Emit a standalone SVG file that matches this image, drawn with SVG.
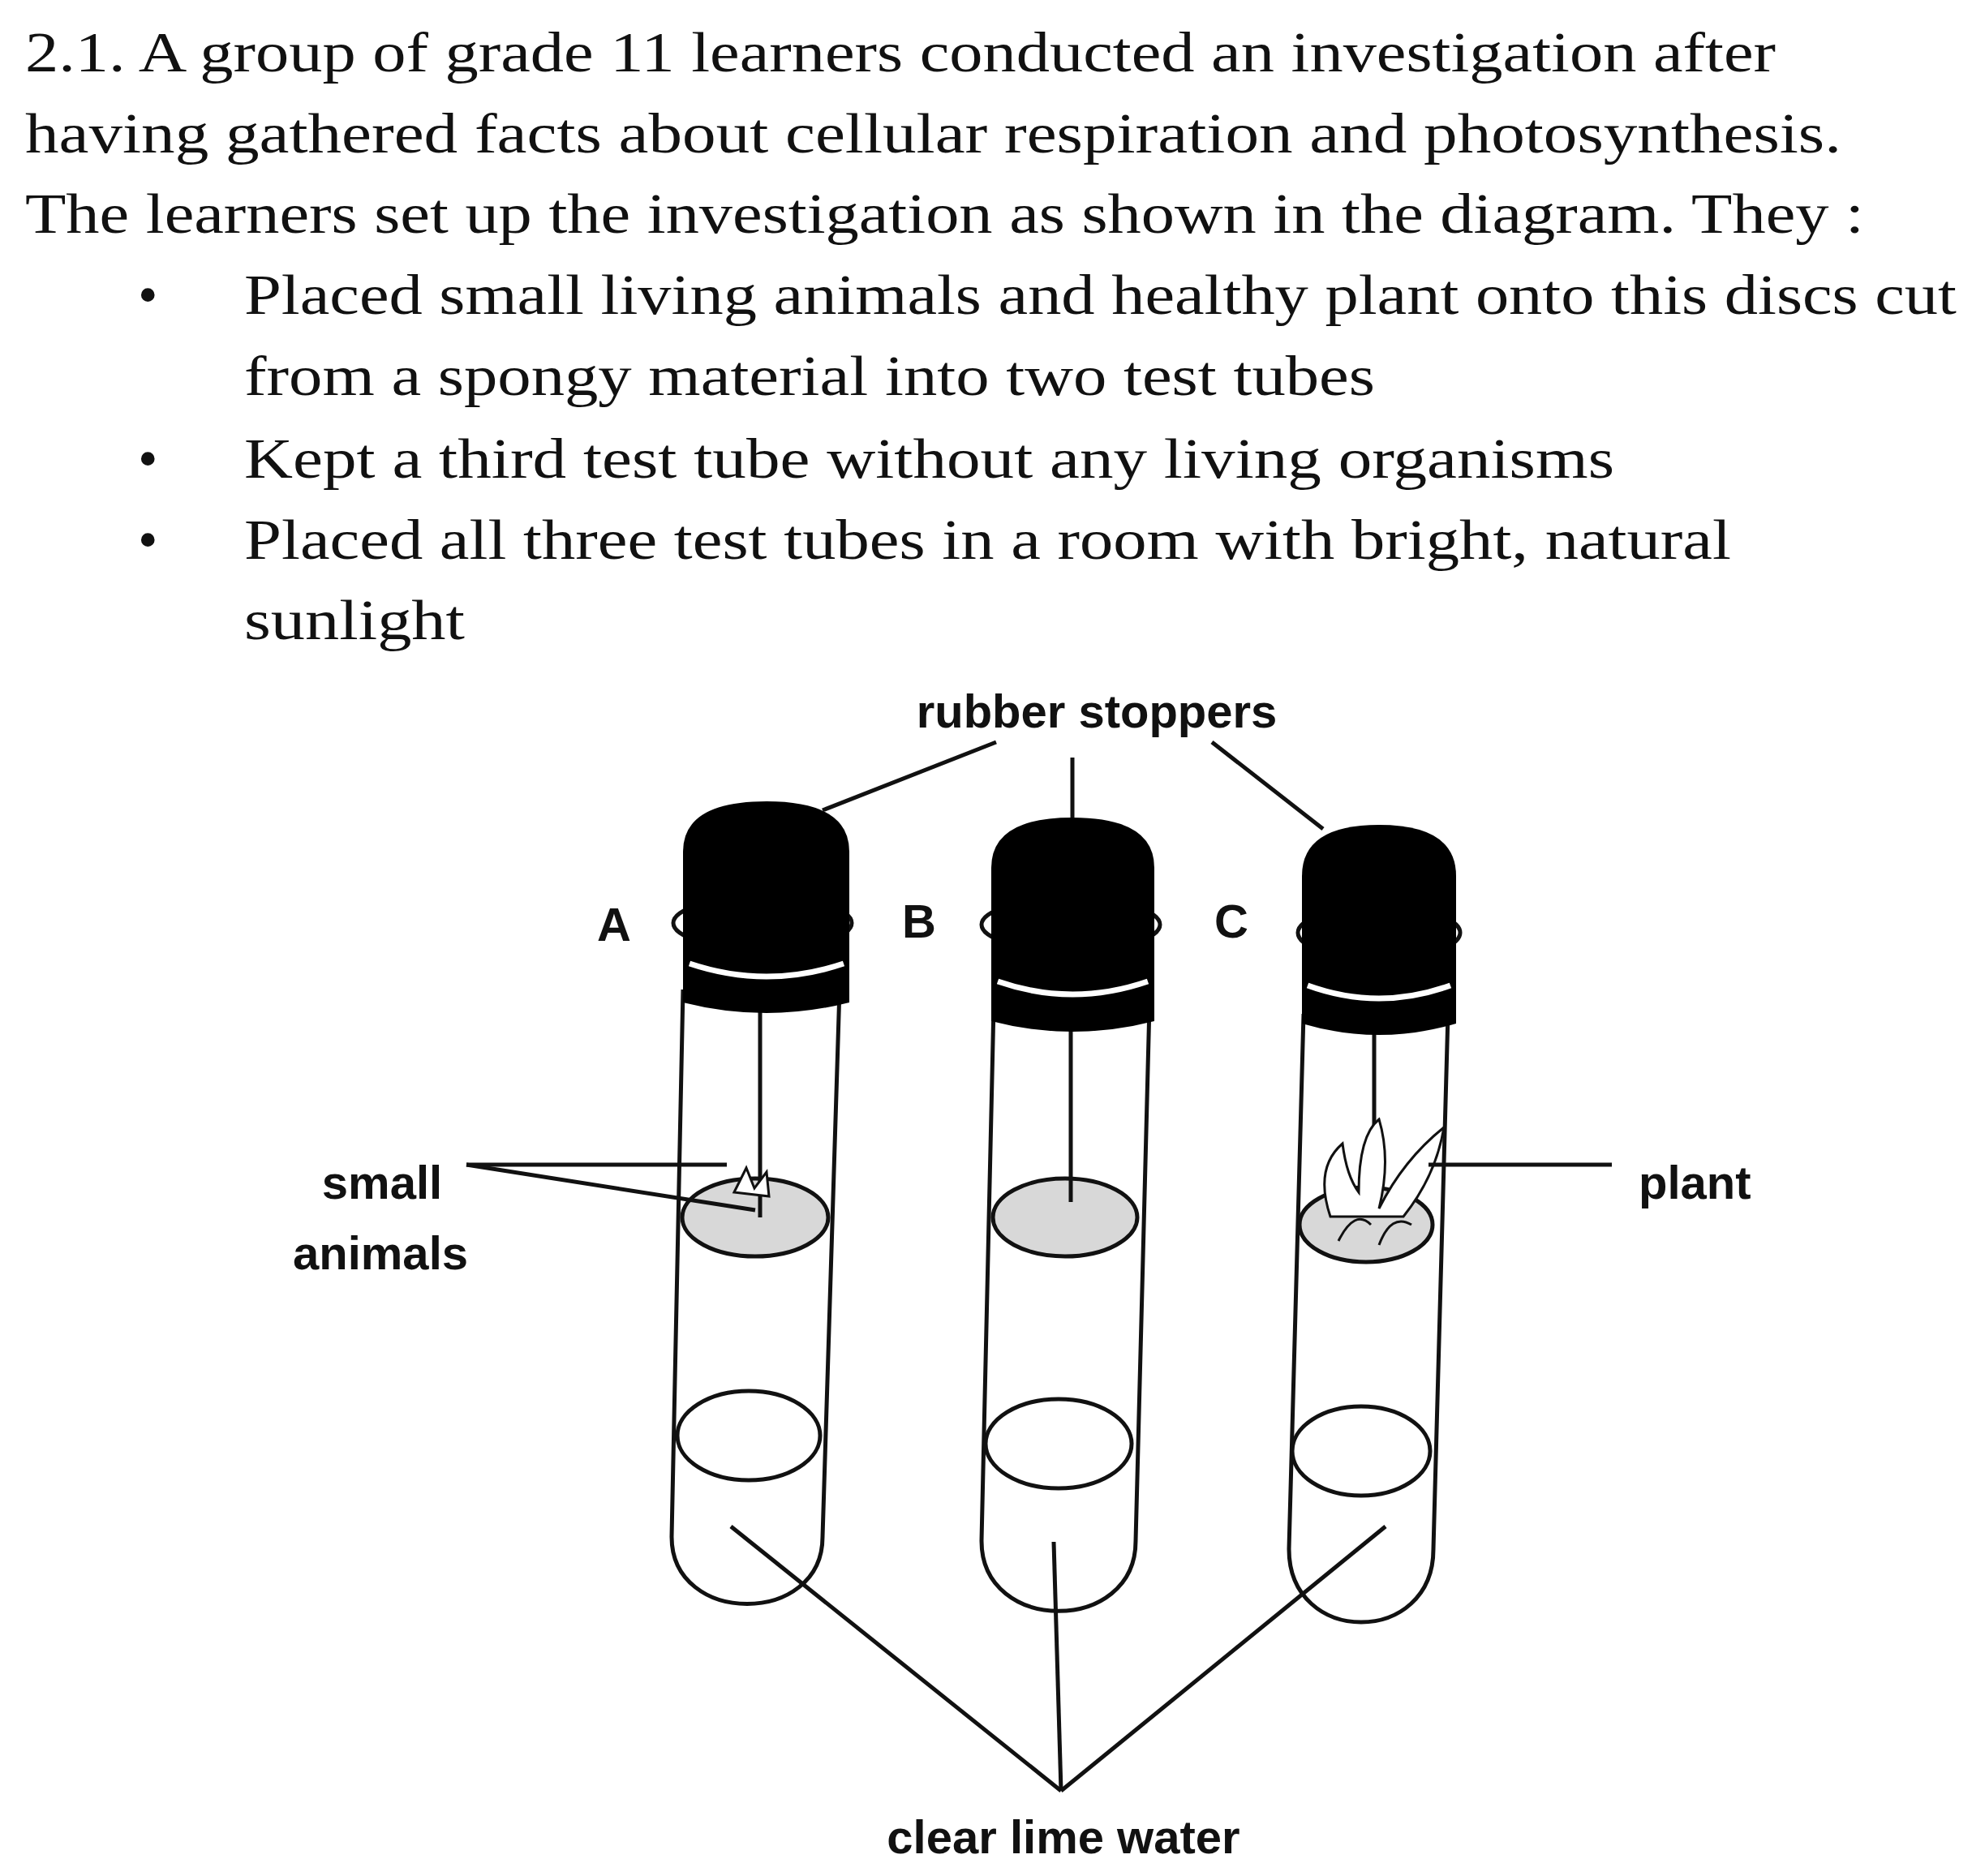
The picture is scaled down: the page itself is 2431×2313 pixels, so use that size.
<svg xmlns="http://www.w3.org/2000/svg" width="2431" height="2313" viewBox="0 0 2431 2313">
<style>
.b{font-family:"Liberation Serif",serif;font-size:70px;fill:#111}
.l{font-family:"Liberation Sans",Arial,sans-serif;font-size:58px;font-weight:bold;fill:#111}
.ln{stroke:#111;stroke-width:5;fill:none}
.tube{stroke:#111;stroke-width:5;fill:#fff}
.disc{stroke:#111;stroke-width:5;fill:#d8d8d8}
</style>
<defs>
<pattern id="dots" width="22" height="18" patternUnits="userSpaceOnUse">
<rect width="22" height="18" fill="#eee"/>
<circle cx="6" cy="5" r="3" fill="#333"/><circle cx="16" cy="13" r="2.5" fill="#333"/>
</pattern>
</defs>
<rect width="2431" height="2313" fill="#fff"/>
<g id="text">
<text class="b" x="31" y="88" textLength="2158" lengthAdjust="spacingAndGlyphs">2.1. A group of grade 11 learners conducted an investigation after</text>
<text class="b" x="31" y="188" textLength="2239" lengthAdjust="spacingAndGlyphs">having gathered facts about cellular respiration and photosynthesis.</text>
<text class="b" x="31" y="287" textLength="2267" lengthAdjust="spacingAndGlyphs">The learners set up the investigation as shown in the diagram. They :</text>
<text class="b" x="170" y="387">•</text>
<text class="b" x="301" y="387" textLength="2111" lengthAdjust="spacingAndGlyphs">Placed small living animals and healthy plant onto this discs cut</text>
<text class="b" x="301" y="487" textLength="1394" lengthAdjust="spacingAndGlyphs">from a spongy material into two test tubes</text>
<text class="b" x="170" y="589">•</text>
<text class="b" x="301" y="589" textLength="1689" lengthAdjust="spacingAndGlyphs">Kept a third test tube without any living organisms</text>
<text class="b" x="170" y="689">•</text>
<text class="b" x="301" y="689" textLength="1833" lengthAdjust="spacingAndGlyphs">Placed all three test tubes in a room with bright, natural</text>
<text class="b" x="301" y="788" textLength="272" lengthAdjust="spacingAndGlyphs">sunlight</text>
</g>
<g id="tubeA">
<path class="tube" d="M842,1220 L828,1895 C828,2005 1014,2005 1014,1895 L1035,1220"/>
<ellipse class="ln" cx="923" cy="1770" rx="88" ry="55"/>
<ellipse class="disc" cx="931" cy="1501" rx="90" ry="48" fill="url(#dots)"/>
<line class="ln" x1="937" y1="1236" x2="937" y2="1501" stroke-width="4"/>
<path d="M905,1470 l15,-30 l10,25 l15,-20 l3,30z" fill="#fff" stroke="#111" stroke-width="3"/>
<ellipse class="ln" cx="940" cy="1138" rx="110" ry="32"/>
<path d="M842,1236 L842,1050 Q842,988 945,988 Q1047,988 1047,1050 L1047,1236 Q945,1262 842,1236z" fill="#000"/>
<path d="M850,1188 Q945,1220 1040,1188" stroke="#fff" stroke-width="7" fill="none"/>
<text class="l" x="757" y="1160" text-anchor="middle">A</text>
</g>
<g id="tubeB">
<path class="tube" d="M1225,1240 L1210,1900 C1210,2015 1400,2015 1400,1900 L1417,1240"/>
<ellipse class="ln" cx="1305" cy="1780" rx="90" ry="55"/>
<ellipse class="disc" cx="1313" cy="1501" rx="89" ry="48" fill="url(#dots)"/>
<line class="ln" x1="1320" y1="1259" x2="1320" y2="1482" stroke-width="4"/>
<ellipse class="ln" cx="1320" cy="1140" rx="110" ry="32"/>
<path d="M1222,1259 L1222,1070 Q1222,1008 1322,1008 Q1423,1008 1423,1070 L1423,1259 Q1322,1285 1222,1259z" fill="#000"/>
<path d="M1230,1210 Q1322,1242 1415,1210" stroke="#fff" stroke-width="7" fill="none"/>
<text class="l" x="1133" y="1156" text-anchor="middle">B</text>
</g>
<g id="tubeC">
<path class="tube" d="M1607,1250 L1589,1910 C1589,2030 1767,2030 1767,1910 L1785,1250"/>
<ellipse class="ln" cx="1678" cy="1789" rx="85" ry="55"/>
<ellipse class="disc" cx="1684" cy="1510" rx="82" ry="46" fill="#e8e8e8"/>
<line class="ln" x1="1694" y1="1259" x2="1694" y2="1480" stroke-width="4"/>
<path d="M1640,1500 q-20,-60 15,-90 q5,40 20,60 q0,-70 25,-90 q15,50 0,110 q30,-60 80,-100 q-10,60 -50,110z" fill="#fff" stroke="#111" stroke-width="3"/>
<path d="M1650,1530 q20,-40 40,-20 M1700,1535 q15,-40 40,-25" stroke="#111" stroke-width="3" fill="none"/>
<ellipse class="ln" cx="1700" cy="1150" rx="100" ry="32"/>
<path d="M1605,1262 L1605,1080 Q1605,1017 1700,1017 Q1795,1017 1795,1080 L1795,1262 Q1700,1290 1605,1262z" fill="#000"/>
<path d="M1612,1215 Q1700,1247 1788,1215" stroke="#fff" stroke-width="7" fill="none"/>
<text class="l" x="1518" y="1156" text-anchor="middle">C</text>
</g>
<g id="labels">
<text class="l" x="1352" y="897" text-anchor="middle">rubber stoppers</text>
<text class="l" x="471" y="1478" text-anchor="middle">small</text>
<text class="l" x="469" y="1565" text-anchor="middle">animals</text>
<text class="l" x="2020" y="1478">plant</text>
<text class="l" x="1311" y="2285" text-anchor="middle">clear lime water</text>
</g>
<g id="connectors">
<line class="ln" x1="1228" y1="915" x2="1014" y2="999"/>
<line class="ln" x1="1322" y1="934" x2="1322" y2="1008"/>
<line class="ln" x1="1494" y1="915" x2="1631" y2="1022"/>
<line class="ln" x1="575" y1="1436" x2="896" y2="1436"/>
<line class="ln" x1="575" y1="1436" x2="931" y2="1492"/>
<line class="ln" x1="1761" y1="1436" x2="1987" y2="1436"/>
<line class="ln" x1="901" y1="1882" x2="1308" y2="2208"/>
<line class="ln" x1="1299" y1="1901" x2="1308" y2="2208"/>
<line class="ln" x1="1708" y1="1882" x2="1308" y2="2208"/>
</g>
</svg>
